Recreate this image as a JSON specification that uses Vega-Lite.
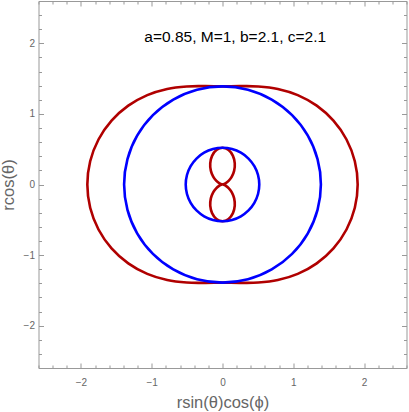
{
  "$schema": "https://vega.github.io/schema/vega-lite/v6.json",
  "width": 368,
  "height": 367,
  "autosize": {"type": "none"},
  "padding": {"left": 38.5, "top": 1, "right": 2.5, "bottom": 44},
  "background": "white",
  "config": {
    "view": {"stroke": "#999999", "strokeWidth": 1},
    "font": "Liberation Sans"
  },
  "resolve": {"axis": {"x": "independent", "y": "independent"}},
  "layer": [
    {
      "data": {"values": [
        {"id":"E1","c":"e","i":0,"x":0,"y":1.3903},
        {"id":"E1","c":"e","i":1,"x":0.2457,"y":1.3932},
        {"id":"E1","c":"e","i":2,"x":0.5057,"y":1.3893},
        {"id":"E1","c":"e","i":3,"x":0.7817,"y":1.3540},
        {"id":"E1","c":"e","i":4,"x":1.0629,"y":1.2667},
        {"id":"E1","c":"e","i":5,"x":1.3316,"y":1.1173},
        {"id":"E1","c":"e","i":6,"x":1.5677,"y":0.9051},
        {"id":"E1","c":"e","i":7,"x":1.7522,"y":0.6378},
        {"id":"E1","c":"e","i":8,"x":1.8697,"y":0.3297},
        {"id":"E1","c":"e","i":9,"x":1.91,"y":0},
        {"id":"E1","c":"e","i":10,"x":1.8697,"y":-0.3297},
        {"id":"E1","c":"e","i":11,"x":1.7522,"y":-0.6378},
        {"id":"E1","c":"e","i":12,"x":1.5677,"y":-0.9051},
        {"id":"E1","c":"e","i":13,"x":1.3316,"y":-1.1173},
        {"id":"E1","c":"e","i":14,"x":1.0629,"y":-1.2667},
        {"id":"E1","c":"e","i":15,"x":0.7817,"y":-1.3540},
        {"id":"E1","c":"e","i":16,"x":0.5057,"y":-1.3893},
        {"id":"E1","c":"e","i":17,"x":0.2457,"y":-1.3932},
        {"id":"E1","c":"e","i":18,"x":0,"y":-1.3903},
        {"id":"E1","c":"e","i":19,"x":-0.2457,"y":-1.3932},
        {"id":"E1","c":"e","i":20,"x":-0.5057,"y":-1.3893},
        {"id":"E1","c":"e","i":21,"x":-0.7817,"y":-1.3540},
        {"id":"E1","c":"e","i":22,"x":-1.0629,"y":-1.2667},
        {"id":"E1","c":"e","i":23,"x":-1.3316,"y":-1.1173},
        {"id":"E1","c":"e","i":24,"x":-1.5677,"y":-0.9051},
        {"id":"E1","c":"e","i":25,"x":-1.7522,"y":-0.6378},
        {"id":"E1","c":"e","i":26,"x":-1.8697,"y":-0.3297},
        {"id":"E1","c":"e","i":27,"x":-1.91,"y":0},
        {"id":"E1","c":"e","i":28,"x":-1.8697,"y":0.3297},
        {"id":"E1","c":"e","i":29,"x":-1.7522,"y":0.6378},
        {"id":"E1","c":"e","i":30,"x":-1.5677,"y":0.9051},
        {"id":"E1","c":"e","i":31,"x":-1.3316,"y":1.1173},
        {"id":"E1","c":"e","i":32,"x":-1.0629,"y":1.2667},
        {"id":"E1","c":"e","i":33,"x":-0.7817,"y":1.3540},
        {"id":"E1","c":"e","i":34,"x":-0.5057,"y":1.3893},
        {"id":"E1","c":"e","i":35,"x":-0.2457,"y":1.3932},

        {"id":"E2","c":"e","i":0,"x":0,"y":0.5197},
        {"id":"E2","c":"e","i":1,"x":0.0860,"y":0.4878},
        {"id":"E2","c":"e","i":2,"x":0.1476,"y":0.4055},
        {"id":"E2","c":"e","i":3,"x":0.1733,"y":0.3002},
        {"id":"E2","c":"e","i":4,"x":0.1648,"y":0.1964},
        {"id":"E2","c":"e","i":5,"x":0.1316,"y":0.1104},
        {"id":"E2","c":"e","i":6,"x":0.0864,"y":0.0499},
        {"id":"E2","c":"e","i":7,"x":0.0426,"y":0.0155},
        {"id":"E2","c":"e","i":8,"x":0.0113,"y":0.0020},
        {"id":"E2","c":"e","i":9,"x":0,"y":0},
        {"id":"E2","c":"e","i":10,"x":0.0113,"y":-0.0020},
        {"id":"E2","c":"e","i":11,"x":0.0426,"y":-0.0155},
        {"id":"E2","c":"e","i":12,"x":0.0864,"y":-0.0499},
        {"id":"E2","c":"e","i":13,"x":0.1316,"y":-0.1104},
        {"id":"E2","c":"e","i":14,"x":0.1648,"y":-0.1964},
        {"id":"E2","c":"e","i":15,"x":0.1733,"y":-0.3002},
        {"id":"E2","c":"e","i":16,"x":0.1476,"y":-0.4055},
        {"id":"E2","c":"e","i":17,"x":0.0860,"y":-0.4878},
        {"id":"E2","c":"e","i":18,"x":0,"y":-0.5197},
        {"id":"E2","c":"e","i":19,"x":-0.0860,"y":-0.4878},
        {"id":"E2","c":"e","i":20,"x":-0.1476,"y":-0.4055},
        {"id":"E2","c":"e","i":21,"x":-0.1733,"y":-0.3002},
        {"id":"E2","c":"e","i":22,"x":-0.1648,"y":-0.1964},
        {"id":"E2","c":"e","i":23,"x":-0.1316,"y":-0.1104},
        {"id":"E2","c":"e","i":24,"x":-0.0864,"y":-0.0499},
        {"id":"E2","c":"e","i":25,"x":-0.0426,"y":-0.0155},
        {"id":"E2","c":"e","i":26,"x":-0.0113,"y":-0.0020},
        {"id":"E2","c":"e","i":27,"x":0,"y":0},
        {"id":"E2","c":"e","i":28,"x":-0.0113,"y":0.0020},
        {"id":"E2","c":"e","i":29,"x":-0.0426,"y":0.0155},
        {"id":"E2","c":"e","i":30,"x":-0.0864,"y":0.0499},
        {"id":"E2","c":"e","i":31,"x":-0.1316,"y":0.1104},
        {"id":"E2","c":"e","i":32,"x":-0.1648,"y":0.1964},
        {"id":"E2","c":"e","i":33,"x":-0.1733,"y":0.3002},
        {"id":"E2","c":"e","i":34,"x":-0.1476,"y":0.4055},
        {"id":"E2","c":"e","i":35,"x":-0.0860,"y":0.4878},

        {"id":"H1","c":"h","i":0,"x":0,"y":1.3903},
        {"id":"H1","c":"h","i":1,"x":0.3598,"y":1.3429},
        {"id":"H1","c":"h","i":2,"x":0.6952,"y":1.2040},
        {"id":"H1","c":"h","i":3,"x":0.9831,"y":0.9831},
        {"id":"H1","c":"h","i":4,"x":1.2040,"y":0.6952},
        {"id":"H1","c":"h","i":5,"x":1.3429,"y":0.3598},
        {"id":"H1","c":"h","i":6,"x":1.3903,"y":0},
        {"id":"H1","c":"h","i":7,"x":1.3429,"y":-0.3598},
        {"id":"H1","c":"h","i":8,"x":1.2040,"y":-0.6952},
        {"id":"H1","c":"h","i":9,"x":0.9831,"y":-0.9831},
        {"id":"H1","c":"h","i":10,"x":0.6952,"y":-1.2040},
        {"id":"H1","c":"h","i":11,"x":0.3598,"y":-1.3429},
        {"id":"H1","c":"h","i":12,"x":0,"y":-1.3903},
        {"id":"H1","c":"h","i":13,"x":-0.3598,"y":-1.3429},
        {"id":"H1","c":"h","i":14,"x":-0.6952,"y":-1.2040},
        {"id":"H1","c":"h","i":15,"x":-0.9831,"y":-0.9831},
        {"id":"H1","c":"h","i":16,"x":-1.2040,"y":-0.6952},
        {"id":"H1","c":"h","i":17,"x":-1.3429,"y":-0.3598},
        {"id":"H1","c":"h","i":18,"x":-1.3903,"y":0},
        {"id":"H1","c":"h","i":19,"x":-1.3429,"y":0.3598},
        {"id":"H1","c":"h","i":20,"x":-1.2040,"y":0.6952},
        {"id":"H1","c":"h","i":21,"x":-0.9831,"y":0.9831},
        {"id":"H1","c":"h","i":22,"x":-0.6952,"y":1.2040},
        {"id":"H1","c":"h","i":23,"x":-0.3598,"y":1.3429},

        {"id":"H2","c":"h","i":0,"x":0,"y":0.5197},
        {"id":"H2","c":"h","i":1,"x":0.1345,"y":0.5020},
        {"id":"H2","c":"h","i":2,"x":0.2599,"y":0.4501},
        {"id":"H2","c":"h","i":3,"x":0.3675,"y":0.3675},
        {"id":"H2","c":"h","i":4,"x":0.4501,"y":0.2599},
        {"id":"H2","c":"h","i":5,"x":0.5020,"y":0.1345},
        {"id":"H2","c":"h","i":6,"x":0.5197,"y":0},
        {"id":"H2","c":"h","i":7,"x":0.5020,"y":-0.1345},
        {"id":"H2","c":"h","i":8,"x":0.4501,"y":-0.2599},
        {"id":"H2","c":"h","i":9,"x":0.3675,"y":-0.3675},
        {"id":"H2","c":"h","i":10,"x":0.2599,"y":-0.4501},
        {"id":"H2","c":"h","i":11,"x":0.1345,"y":-0.5020},
        {"id":"H2","c":"h","i":12,"x":0,"y":-0.5197},
        {"id":"H2","c":"h","i":13,"x":-0.1345,"y":-0.5020},
        {"id":"H2","c":"h","i":14,"x":-0.2599,"y":-0.4501},
        {"id":"H2","c":"h","i":15,"x":-0.3675,"y":-0.3675},
        {"id":"H2","c":"h","i":16,"x":-0.4501,"y":-0.2599},
        {"id":"H2","c":"h","i":17,"x":-0.5020,"y":-0.1345},
        {"id":"H2","c":"h","i":18,"x":-0.5197,"y":0},
        {"id":"H2","c":"h","i":19,"x":-0.5020,"y":0.1345},
        {"id":"H2","c":"h","i":20,"x":-0.4501,"y":0.2599},
        {"id":"H2","c":"h","i":21,"x":-0.3675,"y":0.3675},
        {"id":"H2","c":"h","i":22,"x":-0.2599,"y":0.4501},
        {"id":"H2","c":"h","i":23,"x":-0.1345,"y":0.5020}
      ]},
      "mark": {"type": "line", "interpolate": "cardinal-closed", "strokeWidth": 2.6},
      "encoding": {
        "x": {
          "field": "x", "type": "quantitative",
          "scale": {"domain": [-2.6, 2.6], "nice": false, "zero": false},
          "axis": {
            "orient": "bottom",
            "values": [-2.6,-2.4,-2.2,-2,-1.8,-1.6,-1.4,-1.2,-1,-0.8,-0.6,-0.4,-0.2,0,0.2,0.4,0.6,0.8,1,1.2,1.4,1.6,1.8,2,2.2,2.4,2.6],
            "tickSize": {"condition": {"test": "abs(datum.value - round(datum.value)) < 0.001", "value": -5}, "value": -3},
            "labelExpr": "abs(datum.value - round(datum.value)) < 0.001 ? format(round(datum.value), 'd') : ''",
            "labelOverlap": false,
            "labelFlush": false,
            "labelPadding": 14,
            "labelFontSize": 10,
            "labelColor": "#666666",
            "tickColor": "#999999",
            "domain": false,
            "grid": false,
            "title": "rsin(θ)cos(ϕ)",
            "titleFontSize": 16.5,
            "titleFontWeight": "normal",
            "titleColor": "#666666",
            "titleBaseline": "alphabetic",
            "titleY": 39
          }
        },
        "y": {
          "field": "y", "type": "quantitative",
          "scale": {"domain": [-2.6, 2.6], "nice": false, "zero": false},
          "axis": {
            "orient": "left",
            "values": [-2.6,-2.4,-2.2,-2,-1.8,-1.6,-1.4,-1.2,-1,-0.8,-0.6,-0.4,-0.2,0,0.2,0.4,0.6,0.8,1,1.2,1.4,1.6,1.8,2,2.2,2.4,2.6],
            "tickSize": {"condition": {"test": "abs(datum.value - round(datum.value)) < 0.001", "value": -5}, "value": -3},
            "labelExpr": "abs(datum.value - round(datum.value)) < 0.001 ? format(round(datum.value), 'd') : ''",
            "labelOverlap": false,
            "labelFlush": false,
            "labelPadding": 9,
            "labelFontSize": 10,
            "labelColor": "#666666",
            "tickColor": "#999999",
            "domain": false,
            "grid": false,
            "title": "rcos(θ)",
            "titleFontSize": 16.5,
            "titleFontWeight": "normal",
            "titleColor": "#666666",
            "titleBaseline": "alphabetic",
            "titleX": -25
          }
        },
        "detail": {"field": "id"},
        "order": {"field": "i", "type": "quantitative"},
        "color": {"field": "c", "type": "nominal", "scale": {"domain": ["e", "h"], "range": ["#b00000", "#0000ff"]}, "legend": null}
      }
    },
    {
      "data": {"values": [{"label": "a=0.85, M=1, b=2.1, c=2.1"}]},
      "mark": {"type": "text", "fontSize": 15.5, "font": "Liberation Sans", "color": "black", "align": "center", "baseline": "middle"},
      "encoding": {
        "x": {
          "datum": 0.18, "type": "quantitative",
          "scale": {"domain": [-2.6, 2.6], "nice": false, "zero": false},
          "axis": {
            "orient": "top",
            "values": [-2.6,-2.4,-2.2,-2,-1.8,-1.6,-1.4,-1.2,-1,-0.8,-0.6,-0.4,-0.2,0,0.2,0.4,0.6,0.8,1,1.2,1.4,1.6,1.8,2,2.2,2.4,2.6],
            "tickSize": {"condition": {"test": "abs(datum.value - round(datum.value)) < 0.001", "value": -5}, "value": -3},
            "labels": false,
            "tickColor": "#999999",
            "domain": false,
            "grid": false,
            "title": null
          }
        },
        "y": {
          "datum": 2.09, "type": "quantitative",
          "scale": {"domain": [-2.6, 2.6], "nice": false, "zero": false},
          "axis": {
            "orient": "right",
            "values": [-2.6,-2.4,-2.2,-2,-1.8,-1.6,-1.4,-1.2,-1,-0.8,-0.6,-0.4,-0.2,0,0.2,0.4,0.6,0.8,1,1.2,1.4,1.6,1.8,2,2.2,2.4,2.6],
            "tickSize": {"condition": {"test": "abs(datum.value - round(datum.value)) < 0.001", "value": -5}, "value": -3},
            "labels": false,
            "tickColor": "#999999",
            "domain": false,
            "grid": false,
            "title": null
          }
        },
        "text": {"field": "label"}
      }
    }
  ]
}
